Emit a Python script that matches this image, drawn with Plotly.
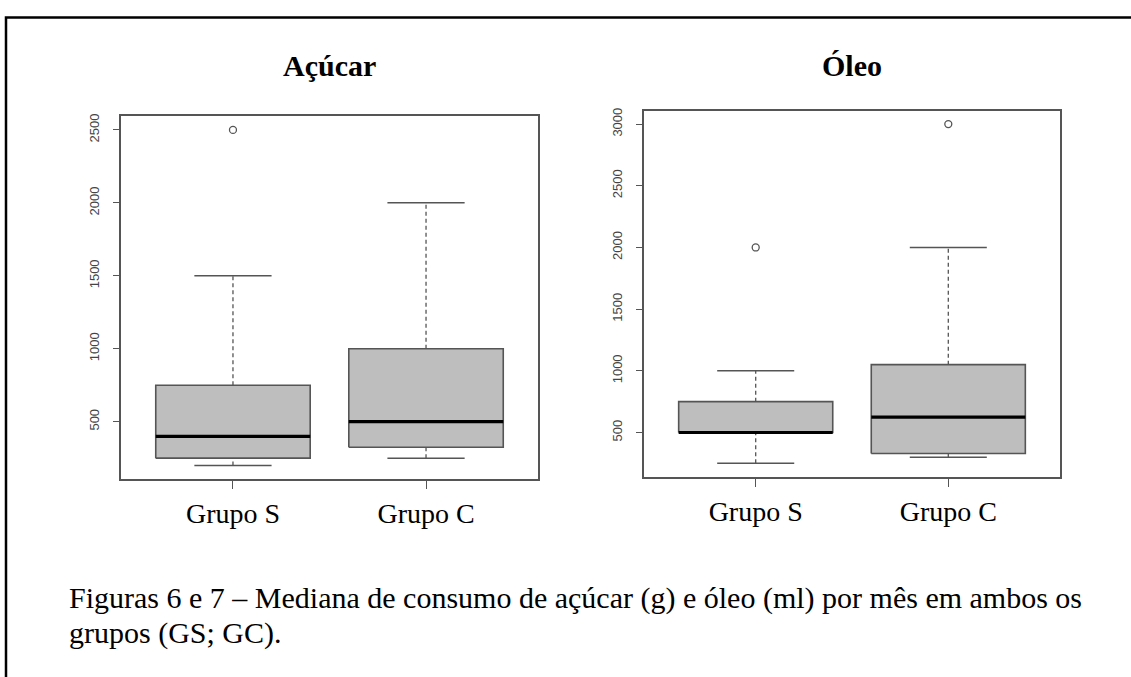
import plotly.graph_objects as go

# ---- data ----
groups = ["Grupo S", "Grupo C"]
group_pos = [1, 2]

acucar_lower = [200, 250]
acucar_q1 = [250, 325]
acucar_median = [400, 500]
acucar_q3 = [750, 1000]
acucar_upper = [1500, 2000]
acucar_outliers = [[2500], []]

oleo_lower = [250, 300]
oleo_q1 = [500, 330]
oleo_median = [500, 625]
oleo_q3 = [750, 1050]
oleo_upper = [1000, 2000]
oleo_outliers = [[2000], [3000]]

acucar_ticks = [500, 1000, 1500, 2000, 2500]
oleo_ticks = [500, 1000, 1500, 2000, 2500, 3000]

titles = ["Açúcar", "Óleo"]
caption_lines = [
    "Figuras 6 e 7 – Mediana de consumo de açúcar (g) e óleo (ml) por mês em ambos os",
    "grupos (GS; GC).",
]

# ---- figure ----
W, H = 1131, 677
fig = go.Figure()

BOX_FILL = "#bebebe"
EDGE = "#555555"
HALF_BOX = 0.4
HALF_CAP = 0.2

panels = [
    ("x", "y", acucar_lower, acucar_q1, acucar_median, acucar_q3, acucar_upper, acucar_outliers),
    ("x2", "y2", oleo_lower, oleo_q1, oleo_median, oleo_q3, oleo_upper, oleo_outliers),
]

for xr, yr, lo, q1, med, q3, up, outs in panels:
    for i, p in enumerate(group_pos):
        for a, b in ((q3[i], up[i]), (lo[i], q1[i])):
            fig.add_trace(go.Scatter(x=[p, p], y=[a, b], mode="lines", xaxis=xr, yaxis=yr,
                                     line=dict(color=EDGE, width=1.3, dash="4px,3px"),
                                     showlegend=False, hoverinfo="skip"))
        for v in (lo[i], up[i]):
            fig.add_trace(go.Scatter(x=[p - HALF_CAP, p + HALF_CAP], y=[v, v], mode="lines",
                                     xaxis=xr, yaxis=yr, line=dict(color=EDGE, width=1.5),
                                     showlegend=False, hoverinfo="skip"))
        fig.add_trace(go.Scatter(x=[p - HALF_BOX, p + HALF_BOX, p + HALF_BOX, p - HALF_BOX, p - HALF_BOX],
                                 y=[q1[i], q1[i], q3[i], q3[i], q1[i]], mode="lines", fill="toself",
                                 fillcolor=BOX_FILL, xaxis=xr, yaxis=yr,
                                 line=dict(color=EDGE, width=1.6),
                                 showlegend=False, hoverinfo="skip"))
        fig.add_trace(go.Scatter(x=[p - HALF_BOX, p + HALF_BOX], y=[med[i], med[i]], mode="lines",
                                 xaxis=xr, yaxis=yr, line=dict(color="black", width=3.2),
                                 showlegend=False, hoverinfo="skip"))
        if outs[i]:
            fig.add_trace(go.Scatter(x=[p] * len(outs[i]), y=outs[i], mode="markers",
                                     xaxis=xr, yaxis=yr,
                                     marker=dict(symbol="circle-open", size=7, color=EDGE,
                                                 line=dict(width=1.3)),
                                     showlegend=False, hoverinfo="skip"))


def px_x(v):
    return v / W


def px_y(v):
    return 1 - v / H


xaxis_common = dict(range=[0.42, 2.58], tickvals=group_pos, ticktext=groups,
                    ticks="outside", ticklen=8, tickcolor=EDGE, tickwidth=1.3,
                    showline=True, linecolor=EDGE, linewidth=1.6, mirror=True,
                    showgrid=False, zeroline=False, ticklabelstandoff=1,
                    tickfont=dict(family="Liberation Serif", size=28, color="black"))
yaxis_common = dict(ticks="outside", ticklen=6, tickcolor=EDGE, tickwidth=1.3,
                    showline=True, linecolor=EDGE, linewidth=1.6, mirror=True,
                    showgrid=False, zeroline=False, tickangle=-90, ticklabelstandoff=9,
                    tickfont=dict(family="Liberation Sans", size=13, color="#444444"))

fig.update_layout(
    width=W, height=H,
    margin=dict(l=0, r=0, t=0, b=0),
    paper_bgcolor="white", plot_bgcolor="white",
    showlegend=False,
    xaxis=dict(domain=[px_x(121), px_x(538)], anchor="y", **xaxis_common),
    xaxis2=dict(domain=[px_x(644), px_x(1060)], anchor="y2", **xaxis_common),
    yaxis=dict(domain=[px_y(478), px_y(114)], anchor="x", range=[108, 2592],
               tickvals=acucar_ticks, **yaxis_common),
    yaxis2=dict(domain=[px_y(476), px_y(108)], anchor="x2", range=[140, 3110],
                tickvals=oleo_ticks, **yaxis_common),
    shapes=[dict(type="rect", xref="paper", yref="paper",
                 x0=px_x(6), x1=1.05, y0=-0.05, y1=px_y(14.5),
                 line=dict(color="black", width=2.5))],
)

title_x = [(121 + 538) / 2, (644 + 1060) / 2]
for t, cx in zip(titles, title_x):
    fig.add_annotation(text="<b>%s</b>" % t, x=px_x(cx), y=px_y(63), xref="paper", yref="paper",
                       showarrow=False, xanchor="center", yanchor="middle",
                       font=dict(family="Liberation Serif", size=30, color="black"))

cap_y = [598, 633]
for line, cy in zip(caption_lines, cap_y):
    fig.add_annotation(text=line, x=px_x(67), y=px_y(cy), xref="paper", yref="paper",
                       showarrow=False, xanchor="left", yanchor="middle",
                       font=dict(family="Liberation Serif", size=30, color="black"))

# the page body has a default 8px margin; remove it so the figure fills the window
fig.write_html("out.html", config={"displayModeBar": False},
               post_script="document.body.style.margin='0';")
